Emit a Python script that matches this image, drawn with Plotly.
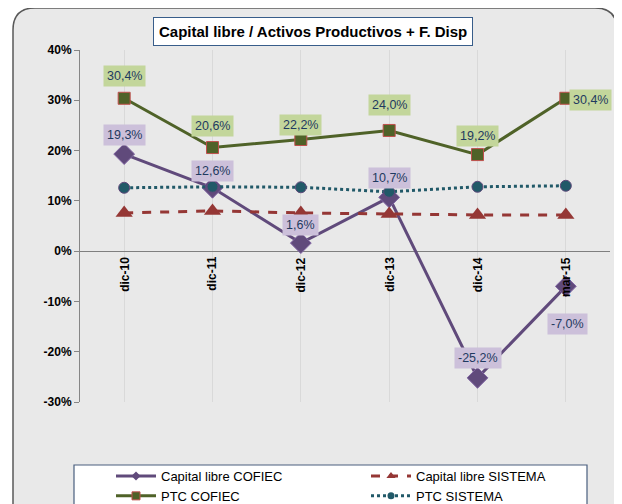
import plotly.graph_objects as go

categories = ["dic-10", "dic-11", "dic-12", "dic-13", "dic-14", "mar-15"]
capital_libre_cofiec = [19.3, 12.6, 1.6, 10.7, -25.2, -7.0]
capital_libre_sistema = [7.6, 8.0, 7.6, 7.4, 7.2, 7.2]
ptc_cofiec = [30.4, 20.6, 22.2, 24.0, 19.2, 30.4]
ptc_sistema = [12.6, 12.8, 12.7, 11.8, 12.8, 13.0]
y_ticks = [-30, -20, -10, 0, 10, 20, 30, 40]
title_text = "Capital libre / Activos Productivos + F. Disp"

# label offsets (pixels) - styling only
ptc_label_shift = [(0, 22), (0, 22), (0, 15), (0, 25), (0, 19), (25, -2)]
cl_label_shift = [(0, 19), (0, 17), (0, 18), (0, 19), (0, 20), (2, -38)]

# the page body has an 8px margin: work in reference pixels, size figure accordingly
OFF = 8
W, H = 622 - OFF, 504 - OFF
L, R, T, B = 80, 610, 50, 402  # plot area in reference pixels
FONT = "Liberation Sans, Arial, sans-serif"


def px(x):
    return (x - L) / (R - L)


def py(y):
    return (B - y) / (B - T)


series = [
    dict(name="Capital libre COFIEC", y=capital_libre_cofiec, legend="legend",
         line=dict(color="#604a7b", width=3),
         marker=dict(symbol="diamond", size=16, color="#604a7b", line=dict(color="#8064a2", width=1)),
         lmarker=dict(symbol="diamond", size=7, color="#604a7b")),
    dict(name="PTC COFIEC", y=ptc_cofiec, legend="legend",
         line=dict(color="#4f6228", width=3),
         marker=dict(symbol="square", size=12, color="#4f6228", line=dict(color="#c0504d", width=1)),
         lmarker=dict(symbol="square", size=8, color="#4f6228", line=dict(color="#c0504d", width=1))),
    dict(name="Capital libre SISTEMA", y=capital_libre_sistema, legend="legend2",
         line=dict(color="#953735", width=3, dash="dash"),
         marker=dict(symbol="triangle-up", size=15, color="#953735"),
         lmarker=dict(symbol="triangle-up", size=8, color="#953735")),
    dict(name="PTC SISTEMA", y=ptc_sistema, legend="legend2",
         line=dict(color="#215968", width=3, dash="dot"),
         marker=dict(symbol="circle", size=11, color="#215968", line=dict(color="#604a7b", width=1)),
         lmarker=dict(symbol="circle", size=7, color="#215968")),
]

fig = go.Figure()
for s in series:
    fig.add_trace(go.Scatter(x=categories, y=s["y"], name=s["name"], mode="lines+markers",
                             line=s["line"], marker=s["marker"], showlegend=False))
for s in series:
    fig.add_trace(go.Scatter(x=[None], y=[None], name=s["name"], mode="lines+markers",
                             line=s["line"], marker=s["lmarker"], showlegend=True,
                             legend=s["legend"]))


def fmt(v):
    return f"{v:.1f}".replace(".", ",") + "%"


annotations = []
for c, v, (dx, dy) in zip(categories, ptc_cofiec, ptc_label_shift):
    annotations.append(dict(x=c, y=v, xref="x", yref="y", text=fmt(v), showarrow=False,
                            xshift=dx, yshift=dy, bgcolor="#c3d69b", borderpad=3,
                            font=dict(family=FONT, size=12.5, color="#1f3a60")))
for c, v, (dx, dy) in zip(categories, capital_libre_cofiec, cl_label_shift):
    annotations.append(dict(x=c, y=v, xref="x", yref="y", text=fmt(v), showarrow=False,
                            xshift=dx, yshift=dy, bgcolor="#ccc0da", borderpad=3,
                            font=dict(family=FONT, size=12.5, color="#1f3a60")))
for c in categories:
    annotations.append(dict(x=c, y=0, xref="x", yref="y", text="<b>" + c + "</b>",
                            showarrow=False, textangle=-90, yanchor="top", yshift=-4,
                            font=dict(family=FONT, size=12, color="#000000")))
annotations.append(dict(x=px(313), y=py(31.5), xref="paper", yref="paper",
                        xanchor="center", yanchor="middle",
                        text="<b>" + title_text + "</b>", showarrow=False,
                        bgcolor="#ffffff", bordercolor="#385d8a", borderwidth=1,
                        borderpad=5, font=dict(family=FONT, size=15, color="#000000")))
fig.update_layout(annotations=annotations)

# rounded outer chart area
x0, x1, y0, y1, r = 13, 617, 8, 530, 22
path = (f"M {px(x0 + r)},{py(y0)} L {px(x1 - r)},{py(y0)} "
        f"Q {px(x1)},{py(y0)} {px(x1)},{py(y0 + r)} "
        f"L {px(x1)},{py(y1 - r)} Q {px(x1)},{py(y1)} {px(x1 - r)},{py(y1)} "
        f"L {px(x0 + r)},{py(y1)} Q {px(x0)},{py(y1)} {px(x0)},{py(y1 - r)} "
        f"L {px(x0)},{py(y0 + r)} Q {px(x0)},{py(y0)} {px(x0 + r)},{py(y0)} Z")
shapes = [
    dict(type="path", path=path, xref="paper", yref="paper", layer="below",
         fillcolor="#e9e9e9", line=dict(color="#595959", width=1.5)),
    dict(type="rect", xref="paper", yref="paper", x0=px(74), x1=px(587),
         y0=py(465), y1=py(520), fillcolor="#ffffff",
         line=dict(color="#4a5f7f", width=1.2), layer="below"),
]
fig.update_layout(shapes=shapes)

legend_common = dict(orientation="v", xanchor="left", yanchor="top", bgcolor="rgba(0,0,0,0)",
                     font=dict(family=FONT, size=13, color="#000000"),
                     itemwidth=40, tracegroupgap=0, borderwidth=0)

fig.update_layout(
    width=W, height=H,
    margin=dict(l=L - OFF, r=(622 - OFF) - (R - OFF), t=T - OFF, b=(504 - OFF) - (B - OFF),
                autoexpand=False),
    paper_bgcolor="#ffffff", plot_bgcolor="#ffffff",
    font=dict(family=FONT, color="#000000"),
    showlegend=True,
    legend=dict(x=px(111), y=py(461), **legend_common),
    legend2=dict(x=px(366), y=py(461), **legend_common),
    xaxis=dict(type="category", range=[-0.5, 5.5], showgrid=True,
               gridcolor="#d9d9d9", gridwidth=1, showticklabels=False,
               showline=False, zeroline=False, ticks=""),
    yaxis=dict(range=[-30, 40], tickvals=y_ticks,
               ticktext=["<b>" + f"{v}%" + "</b>" for v in y_ticks], showgrid=False,
               zeroline=True, zerolinecolor="#7f7f7f", zerolinewidth=1.3,
               showline=True, linecolor="#868686", linewidth=1,
               ticks="outside", ticklen=5, tickcolor="#868686",
               tickfont=dict(family=FONT, size=12, color="#000000")),
)

fig.write_html("out.html")
